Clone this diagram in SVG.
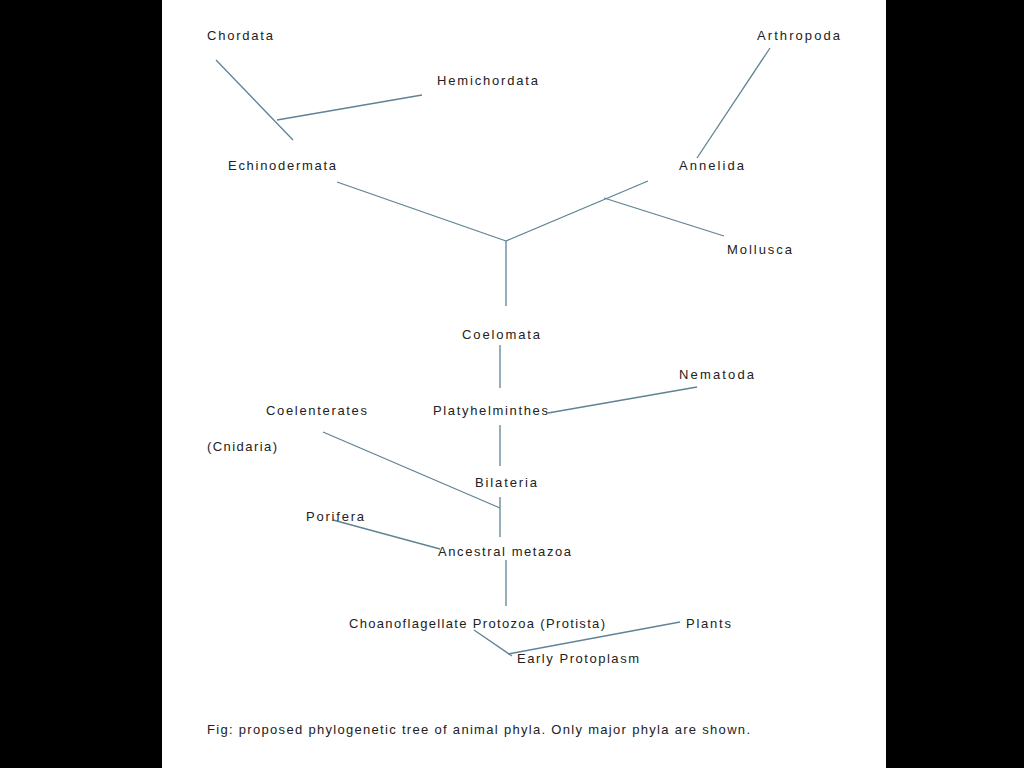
<svg xmlns="http://www.w3.org/2000/svg" width="1024" height="768" viewBox="0 0 1024 768">
<style>
.t{font-family:"Liberation Sans",Arial,sans-serif;font-size:13px;fill:#222}
.c line{stroke:#5f8394;stroke-width:1.3}
</style>
<rect width="1024" height="768" fill="#000"/>
<rect x="162" y="0" width="724" height="768" fill="#fff"/>
<g class="c" id="connectors">
<line x1="216" y1="60" x2="293" y2="140"/>
<line x1="277" y1="120" x2="422" y2="95"/>
<line x1="337" y1="182" x2="506" y2="241"/>
<line x1="506" y1="241" x2="648" y2="181"/>
<line x1="604" y1="198" x2="724" y2="236"/>
<line x1="770" y1="48" x2="697" y2="158"/>
<line x1="506" y1="241" x2="506" y2="306"/>
<line x1="500" y1="345" x2="500" y2="388"/>
<line x1="500" y1="425" x2="500" y2="466"/>
<line x1="548" y1="413" x2="697" y2="387"/>
<line x1="323" y1="432" x2="500" y2="508"/>
<line x1="500" y1="497" x2="500" y2="537"/>
<line x1="333" y1="520" x2="440" y2="549"/>
<line x1="506" y1="560" x2="506" y2="606"/>
<line x1="474" y1="630" x2="512" y2="656"/>
<line x1="508" y1="654" x2="680" y2="622"/>
</g>
<g id="chordata"><text class="t" x="207" y="40" textLength="66" lengthAdjust="spacing">Chordata</text></g>
<g id="hemichordata"><text class="t" x="437" y="85" textLength="101" lengthAdjust="spacing">Hemichordata</text></g>
<g id="arthropoda"><text class="t" x="757" y="40" textLength="83" lengthAdjust="spacing">Arthropoda</text></g>
<g id="echinodermata"><text class="t" x="228" y="170" textLength="108" lengthAdjust="spacing">Echinodermata</text></g>
<g id="annelida"><text class="t" x="679" y="170" textLength="65" lengthAdjust="spacing">Annelida</text></g>
<g id="mollusca"><text class="t" x="727" y="254" textLength="65" lengthAdjust="spacing">Mollusca</text></g>
<g id="coelomata"><text class="t" x="462" y="339" textLength="78" lengthAdjust="spacing">Coelomata</text></g>
<g id="nematoda"><text class="t" x="679" y="379" textLength="75" lengthAdjust="spacing">Nematoda</text></g>
<g id="coelenterates"><text class="t" x="266" y="415" textLength="101" lengthAdjust="spacing">Coelenterates</text><text class="t" x="207" y="451" textLength="70" lengthAdjust="spacing">(Cnidaria)</text></g>
<g id="platyhelminthes"><text class="t" x="433" y="415" textLength="115" lengthAdjust="spacing">Platyhelminthes</text></g>
<g id="bilateria"><text class="t" x="475" y="487" textLength="62" lengthAdjust="spacing">Bilateria</text></g>
<g id="porifera"><text class="t" x="306" y="521" textLength="58" lengthAdjust="spacing">Porifera</text></g>
<g id="ancestral"><text class="t" x="438" y="556" textLength="133" lengthAdjust="spacing">Ancestral metazoa</text></g>
<g id="choano"><text class="t" x="349" y="628" textLength="256" lengthAdjust="spacing">Choanoflagellate Protozoa (Protista)</text></g>
<g id="plants"><text class="t" x="686" y="628" textLength="45" lengthAdjust="spacing">Plants</text></g>
<g id="early"><text class="t" x="517" y="663" textLength="122" lengthAdjust="spacing">Early Protoplasm</text></g>
<text class="t" x="207" y="734" textLength="543" lengthAdjust="spacing">Fig: proposed phylogenetic tree of animal phyla. Only major phyla are shown.</text>
</svg>
